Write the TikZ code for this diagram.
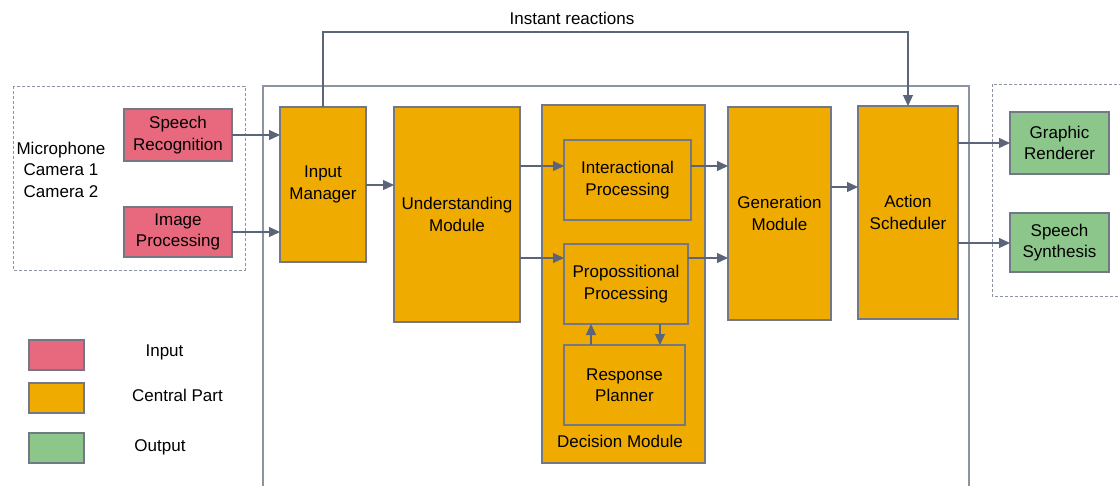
\documentclass[tikz,border=0pt]{standalone}
\usepackage{fontspec}
\setmainfont{Liberation Sans}
\usetikzlibrary{arrows.meta}
\definecolor{inpink}{HTML}{E8697D}
\definecolor{corange}{HTML}{F0AB00}
\definecolor{outgreen}{HTML}{8DC68B}
\definecolor{bordergray}{HTML}{737887}
\definecolor{arrowgray}{HTML}{5B6479}
\definecolor{framegray}{HTML}{8C93A3}
\tikzset{
  box/.style={draw=bordergray, line width=1.2pt, inner sep=0pt, outer sep=0pt, align=center,
    font=\fontsize{17}{21.5}\selectfont},
  inbox/.style={box, fill=inpink},
  cbox/.style={box, fill=corange},
  obox/.style={box, fill=outgreen},
  lbl/.style={inner sep=0pt, align=center, font=\fontsize{17}{21.5}\selectfont},
  arr/.style={draw=arrowgray, line width=1.2pt, -{Triangle[length=11pt,width=10pt]}},
  dashbox/.style={draw=framegray, line width=1pt, dash pattern=on 3pt off 2pt},
}
\begin{document}
\begin{tikzpicture}[x=1pt,y=-1pt]
\useasboundingbox (0,0) rectangle (1120,485);
\clip (0,0) rectangle (1120,485);
% frames
\draw[dashbox] (13,86) rectangle (245,270);
\draw[dashbox] (992,84) rectangle (1130,296);
\draw[draw=framegray, line width=1.2pt] (263,490) -- (263,86) -- (969,86) -- (969,490);
% input
\node[inbox, minimum width=108pt, minimum height=52pt] (sr) at (178,135) {Speech\\Recognition};
\node[inbox, minimum width=108pt, minimum height=50pt] (ip) at (178,232) {Image\\Processing};
\node[lbl] (mic) at (61,169.5) {Microphone\\Camera 1\\Camera 2};
% central
\node[cbox, minimum width=86pt, minimum height=155pt] (im) at (323,184.5) {Input\\Manager};
\node[cbox, minimum width=126pt, minimum height=215pt] (um) at (457,214.5) {Understanding\\Module};
\node[cbox, minimum width=163pt, minimum height=358pt] (dm) at (623.5,284) {};
\node[lbl] (dml) at (620,441.5) {Decision Module};
\node[cbox, minimum width=127pt, minimum height=80pt] (intp) at (627.5,180) {Interactional\\Processing};
\node[cbox, minimum width=124pt, minimum height=80pt] (pp) at (626,284) {Propossitional\\Processing};
\node[cbox, minimum width=121pt, minimum height=80pt] (rp) at (624.5,385) {Response\\Planner};
\node[cbox, minimum width=103pt, minimum height=213pt] (gm) at (779.5,213.5) {Generation\\Module};
\node[cbox, minimum width=100pt, minimum height=213pt] (as) at (908,212.5) {Action\\Scheduler};
% output
\node[obox, minimum width=99pt, minimum height=62pt] (gr) at (1059.5,143) {Graphic\\Renderer};
\node[obox, minimum width=99pt, minimum height=59pt] (ss) at (1059.5,242.5) {Speech\\Synthesis};
% legend
\node[inbox, minimum width=55pt, minimum height=30pt] (lg1) at (56.5,355) {};
\node[cbox, minimum width=55pt, minimum height=30pt] (lg2) at (56.5,398) {};
\node[obox, minimum width=55pt, minimum height=30pt] (lg3) at (56.5,448) {};
\node[lbl] (lt1) at (164.5,352.5) {Input};
\node[lbl] (lt2) at (177.5,395.5) {Central Part};
\node[lbl] (lt3) at (160,447.5) {Output};
% arrows
\draw[arr] (sr.east) -- (im.west |- sr.east);
\draw[arr] (ip.east) -- (im.west |- ip.east);
\draw[arr] (im.east |- 0,185) -- (um.west |- 0,185);
\draw[arr] (um.east |- 0,166) -- (intp.west |- 0,166);
\draw[arr] (um.east |- 0,258) -- (pp.west |- 0,258);
\draw[arr] (intp.east |- 0,166) -- (gm.west |- 0,166);
\draw[arr] (pp.east |- 0,258) -- (gm.west |- 0,258);
\draw[arr] (gm.east |- 0,187) -- (as.west |- 0,187);
\draw[arr] (rp.north -| 591,0) -- (pp.south -| 591,0);
\draw[arr] (pp.south -| 660,0) -- (rp.north -| 660,0);
\draw[arr] (as.east |- gr.west) -- (gr.west);
\draw[arr] (as.east |- 0,243) -- (ss.west |- 0,243);
\coordinate (top1) at (323,32);
\draw[arr] (im.north) -- (top1) -| (as.north);
\node[lbl] (ir) at (572,18.5) {Instant reactions};
\end{tikzpicture}
\end{document}
